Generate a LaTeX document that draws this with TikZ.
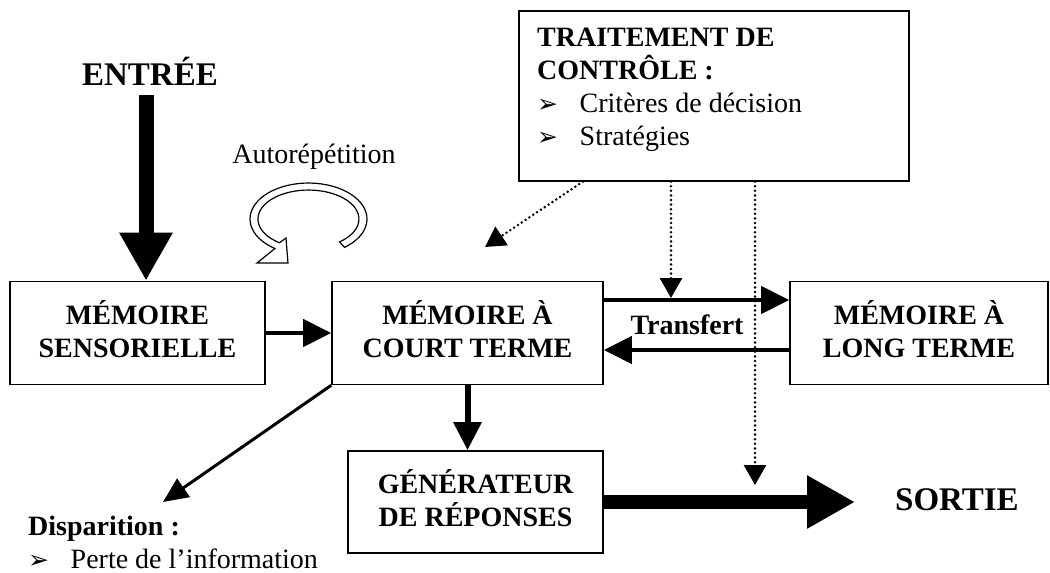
\documentclass[tikz,border=0pt]{standalone}
\usepackage{fontspec}
\setmainfont{Liberation Serif}
\newfontfamily\symfont{DejaVu Sans}
\usetikzlibrary{arrows.meta}
\newcommand{\puce}{\makebox[42.5pt][l]{\symfont\fontsize{25}{25}\selectfont ➢}}
\newcommand{\bas}{\rule[-8pt]{0pt}{8pt}}

\begin{document}
\begin{tikzpicture}[x=1pt,y=-1pt,
    every node/.style={font=\fontsize{28}{33}\selectfont},
    box/.style={draw,line width=1.6pt,align=center,inner sep=0pt,font=\fontsize{28}{33}\selectfont\bfseries},
    titre/.style={inner sep=0pt,font=\fontsize{33}{33}\selectfont\bfseries},
    bigarrow/.style={line width=15pt,-{Triangle[length=48pt,width=50pt]}},
    midarrow/.style={line width=4.5pt,-{Triangle[length=28pt,width=27pt]}},
    thinarrow/.style={line width=3pt,-{Triangle[length=25pt,width=22pt]}},
    dotarrow/.style={line width=2.8pt,line cap=round,dash pattern=on 0pt off 4.6pt,-{Triangle[length=20pt,width=22pt]}}]
\useasboundingbox (0,0) rectangle (1050,573);

\node[box,minimum width=255pt,minimum height=103pt] (ms) at (137.5,333) {MÉMOIRE\\SENSORIELLE\bas};
\node[box,minimum width=271pt,minimum height=103pt] (mct) at (467.5,333) {MÉMOIRE À\\COURT TERME\bas};
\node[box,minimum width=258pt,minimum height=103pt] (mlt) at (919,333) {MÉMOIRE À\\LONG TERME\bas};
\node[box,minimum width=255pt,minimum height=102pt] (gen) at (475.5,502) {GÉNÉRATEUR\\DE RÉPONSES\bas};
\node[box,minimum width=390pt,minimum height=170pt,anchor=north west] (ctrl) at (518,10) {};
\node[anchor=north west,align=left,inner sep=0pt] (ctrltxt) at (537,28)
    {\textbf{TRAITEMENT DE}\\\textbf{CONTRÔLE :}\\\puce Critères de décision\\\puce Stratégies};

\node[titre,anchor=base] (entree) at (150,85) {ENTRÉE};
\node[titre,anchor=base west] (sortie) at (895,510) {SORTIE};
\node[anchor=base,inner sep=0pt] (auto) at (314,163) {Autorépétition};
\node[font=\fontsize{28}{33}\selectfont\bfseries] (transfert) at (687,324.5) {Transfert};
\node[anchor=north west,align=left,inner sep=0pt] (disp) at (28,515.5)
    {\textbf{Disparition :}\\\puce Perte de l’information};

\coordinate (d1) at (671,298);
\coordinate (d2) at (755,485);
\coordinate (d3) at (485,247);
\coordinate (d4) at (163,502);
\coordinate (out) at (855,502);

\draw[bigarrow] ([yshift=-10pt]entree.base -| 146,0) -- (146,0 |- ms.north);
\draw[midarrow] (ms) -- (mct);
\draw[midarrow] ([yshift=33pt]mct.east) -- ([yshift=33pt]mlt.west);
\draw[midarrow] ([yshift=-17pt]mlt.west) -- ([yshift=-17pt]mct.east);
\draw[midarrow,line width=6pt] (mct.south) -- (mct.south |- gen.north);
\draw[bigarrow,line width=14pt] (gen.east) -- (out);
\draw[thinarrow] (mct.south west) -- (d4);
\draw[dotarrow] (ctrl.south -| d1) -- (d1);
\draw[dotarrow] (ctrl.south -| d2) -- (d2);
\draw[dotarrow] ([xshift=65pt]ctrl.south west) -- (d3);

\draw[line width=1.2pt,fill=white] (344.5,247.4) arc[start angle=52,end angle=-235,x radius=58.5,y radius=36]
    -- (257,263) -- (288,263) -- (286,238) -- (279.5,242.8)
    arc[start angle=-235,end angle=52,x radius=50.5,y radius=29] -- cycle;
\end{tikzpicture}
\end{document}
